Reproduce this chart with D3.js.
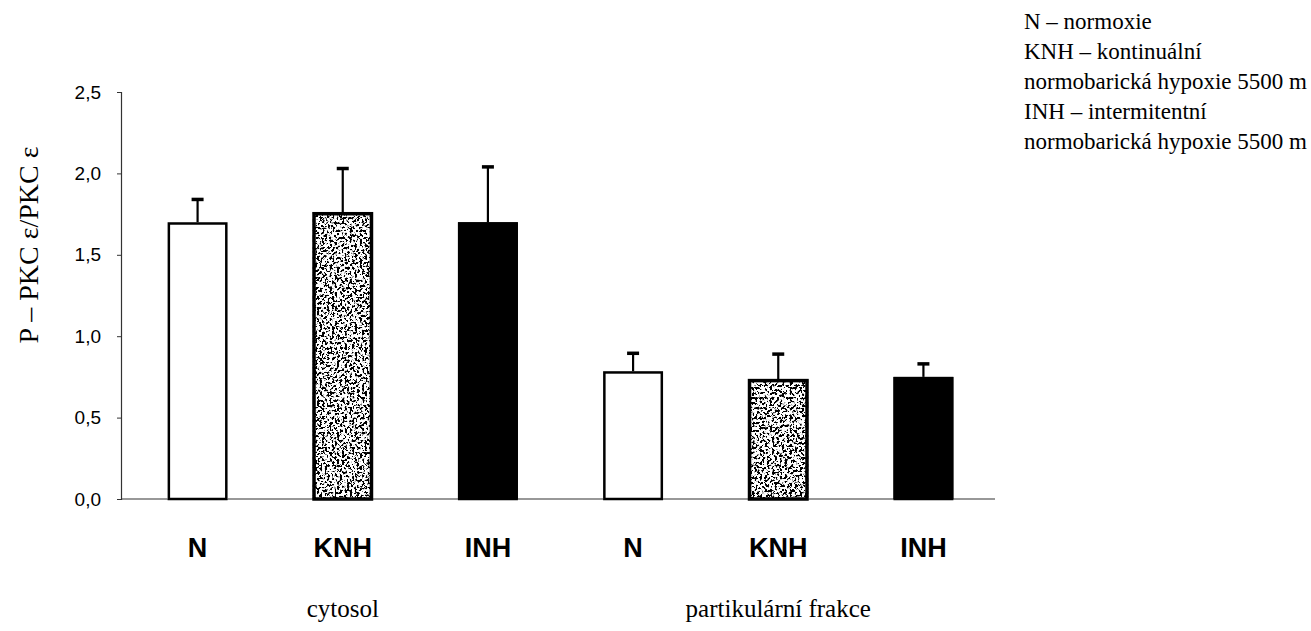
<!DOCTYPE html>
<html>
<head>
<meta charset="utf-8">
<script src="https://cdn.jsdelivr.net/npm/d3@7"></script>
<style>
  body { margin: 0; background: #fff; }
  svg { display: block; }
</style>
</head>
<body>
<div id="chart"></div>
<script>
    // Data
    const categories = ["N", "KNH", "INH", "N", "KNH", "INH"];
    const groups = ["cytosol", "partikulární frakce"];
    const means = [1.70, 1.76, 1.70, 0.785, 0.735, 0.75];
    const errors = [0.14, 0.27, 0.34, 0.11, 0.155, 0.08];
    const fills = ["white", "stipple", "black", "white", "stipple", "black"];
    const yTicks = [0, 0.5, 1.0, 1.5, 2.0, 2.5];
    const legendLines = [
        "N – normoxie",
        "KNH – kontinuální",
        "normobarická hypoxie 5500 m",
        "INH – intermitentní",
        "normobarická hypoxie 5500 m"
    ];

    const width = 1311;
    const height = 631;

    var svg = d3.select("#chart")
        .append("svg")
        .attr("width", width)
        .attr("height", height);

    // stipple texture from turbulence noise
    const defs = svg.append("defs");
    const filt = defs.append("filter")
        .attr("id", "stipple")
        .attr("x", 0).attr("y", 0).attr("width", 1).attr("height", 1);
    filt.append("feTurbulence")
        .attr("type", "fractalNoise")
        .attr("baseFrequency", "0.4")
        .attr("numOctaves", 3)
        .attr("seed", 4)
        .attr("result", "noise");
    filt.append("feColorMatrix")
        .attr("in", "noise")
        .attr("type", "matrix")
        .attr("values", "0 0 0 0 0  0 0 0 0 0  0 0 0 0 0  -14 0 0 0 7.1")
        .attr("result", "dots");
    filt.append("feFlood").attr("flood-color", "#fff").attr("result", "bg");
    filt.append("feMerge").call(m => {
        m.append("feMergeNode").attr("in", "bg");
        m.append("feMergeNode").attr("in", "dots");
    });
    filt.append("feComposite").attr("in2", "SourceGraphic").attr("operator", "in");

    const x = d3.scaleBand()
        .domain(d3.range(categories.length))
        .range([125, 996])
        .paddingInner(0.587)
        .paddingOuter(0.2935);

    const y = d3.scaleLinear()
        .domain([0, 2.5])
        .range([499, 92]);

    // Y axis
    const yAxis = d3.axisLeft(y)
        .tickValues(yTicks)
        .tickSize(4)
        .tickPadding(16)
        .tickFormat(d => d3.format(".1f")(d).replace(".", ","));

    const gy = svg.append("g")
        .attr("transform", "translate(121,0)")
        .call(yAxis);
    gy.select(".domain").attr("stroke", "#333").attr("stroke-width", 1.2);
    gy.selectAll(".tick line").attr("stroke", "#333");
    gy.selectAll(".tick text")
        .attr("font-family", "Liberation Sans, Arial, sans-serif")
        .attr("font-size", 19)
        .attr("fill", "#000");

    // X axis baseline
    svg.append("line")
        .attr("x1", 121).attr("x2", 995)
        .attr("y1", y(0)).attr("y2", y(0))
        .attr("stroke", "#333")
        .attr("stroke-width", 1.2);

    // Bars
    const bars = svg.append("g");
    bars.selectAll("rect.bar")
        .data(means)
        .enter()
        .append("rect")
        .attr("class", "bar")
        .attr("x", (d, i) => x(i))
        .attr("y", d => y(d))
        .attr("width", x.bandwidth())
        .attr("height", d => y(0) - y(d))
        .attr("fill", (d, i) => fills[i] === "white" ? "#fff" : "#000")
        .attr("filter", (d, i) => fills[i] === "stipple" ? "url(#stipple)" : null);

    bars.selectAll("rect.outline")
        .data(means)
        .enter()
        .append("rect")
        .attr("class", "outline")
        .attr("x", (d, i) => x(i) + 1.25)
        .attr("y", d => y(d) + 1.25)
        .attr("width", x.bandwidth() - 2.5)
        .attr("height", d => y(0) - y(d) - 1.25)
        .attr("fill", "none")
        .attr("stroke", "#000")
        .attr("stroke-width", (d, i) => fills[i] === "stipple" ? 3.5 : 2.5);

    // Error bars
    const err = svg.append("g");
    err.selectAll("line.stem")
        .data(means)
        .enter()
        .append("line")
        .attr("x1", (d, i) => x(i) + x.bandwidth() / 2)
        .attr("x2", (d, i) => x(i) + x.bandwidth() / 2)
        .attr("y1", d => y(d))
        .attr("y2", (d, i) => y(d + errors[i]))
        .attr("stroke", "#000")
        .attr("stroke-width", 2.2);
    err.selectAll("line.cap")
        .data(means)
        .enter()
        .append("line")
        .attr("x1", (d, i) => x(i) + x.bandwidth() / 2 - 6)
        .attr("x2", (d, i) => x(i) + x.bandwidth() / 2 + 6)
        .attr("y1", (d, i) => y(d + errors[i]))
        .attr("y2", (d, i) => y(d + errors[i]))
        .attr("stroke", "#000")
        .attr("stroke-width", 3.5);

    // Category labels
    svg.selectAll("text.cat")
        .data(categories)
        .enter()
        .append("text")
        .attr("x", (d, i) => x(i) + x.bandwidth() / 2)
        .attr("y", 557)
        .attr("text-anchor", "middle")
        .attr("font-family", "Liberation Sans, Arial, sans-serif")
        .attr("font-weight", "bold")
        .attr("font-size", 27)
        .text(d => d);

    // Group labels
    svg.selectAll("text.grp")
        .data(groups)
        .enter()
        .append("text")
        .attr("x", (d, i) => x(i * 3 + 1) + x.bandwidth() / 2)
        .attr("y", 617)
        .attr("text-anchor", "middle")
        .attr("font-family", "Liberation Serif, Times New Roman, serif")
        .attr("font-size", 25)
        .text(d => d);

    // Y title
    svg.append("text")
        .attr("transform", "translate(38,245) rotate(-90)")
        .attr("text-anchor", "middle")
        .attr("font-family", "Liberation Serif, Times New Roman, serif")
        .attr("font-size", 28)
        .text("P – PKC ε/PKC ε");

    // Legend
    svg.selectAll("text.leg")
        .data(legendLines)
        .enter()
        .append("text")
        .attr("x", 1024)
        .attr("y", (d, i) => 29 + i * 30)
        .attr("font-family", "Liberation Serif, Times New Roman, serif")
        .attr("font-size", 23)
        .text(d => d);
</script>
</body>
</html>
